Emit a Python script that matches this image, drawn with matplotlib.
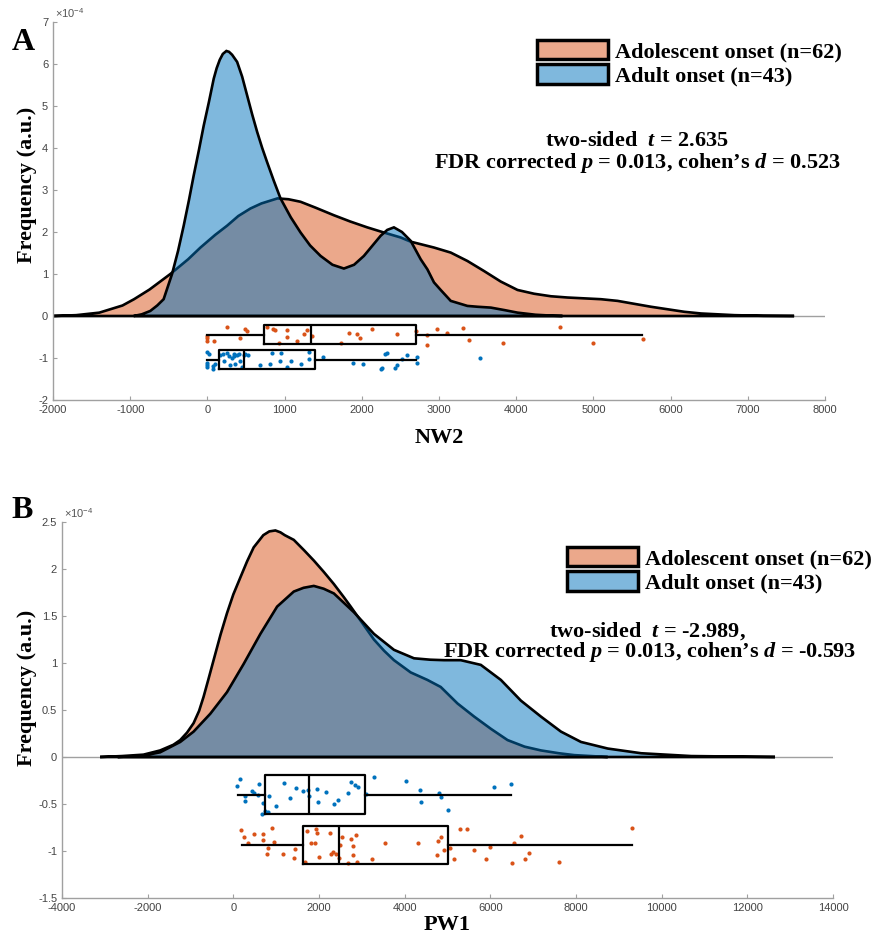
import numpy as np
import matplotlib
matplotlib.use('Agg')
import matplotlib.pyplot as plt
from matplotlib.patches import Patch

plt.rcParams['axes.unicode_minus'] = False
plt.rcParams['mathtext.fontset'] = 'custom'
plt.rcParams['mathtext.rm'] = 'Liberation Serif:bold'
plt.rcParams['mathtext.it'] = 'Liberation Serif:italic:bold'
plt.rcParams['mathtext.bf'] = 'Liberation Serif:bold'
plt.rcParams['mathtext.sf'] = 'Liberation Sans'

# ---- panel A (NW2): density curves, values in 1e-4
nw2_ado_x = [-2000, -1700, -1400, -1100, -950, -750, -480, -250, -90, 100, 255, 400, 558, 700, 908,
             1050, 1206, 1400, 1637, 1850, 2071, 2300, 2503, 2633, 2935, 3152, 3368, 3584, 3800, 4017,
             4232, 4450, 4665, 5097, 5313, 5529, 5746, 5962, 6178, 6394, 6826, 7200, 7600]
nw2_ado_dens = [0.0, 0.02, 0.08, 0.25, 0.40, 0.63, 1.0, 1.35, 1.63, 1.93, 2.15, 2.38, 2.56, 2.68, 2.80,
                2.78, 2.72, 2.58, 2.40, 2.25, 2.11, 1.98, 1.87, 1.77, 1.63, 1.51, 1.31, 1.07, 0.82, 0.62,
                0.53, 0.47, 0.44, 0.40, 0.36, 0.29, 0.22, 0.16, 0.10, 0.06, 0.02, 0.005, 0.0]
nw2_adu_x = [-955, -850, -740, -650, -567, -458, -380, -307, -240, -178, -110, -48, 20, 82, 120, 160, 200,
             246, 280, 320, 385, 450, 515, 580, 645, 710, 774, 860, 947, 1080, 1206, 1330, 1466, 1620,
             1768, 1900, 2027, 2140, 2244, 2330, 2416, 2520, 2633, 2763, 2850, 2935, 3022, 3152, 3368,
             3500, 3671, 3850, 4017, 4250, 4449, 4600]
nw2_adu_dens = [0.0, 0.04, 0.12, 0.25, 0.40, 1.0, 1.55, 2.15, 2.75, 3.34, 3.95, 4.53, 5.10, 5.65, 5.90,
                6.10, 6.24, 6.31, 6.29, 6.22, 6.05, 5.70, 5.25, 4.80, 4.38, 4.00, 3.66, 3.22, 2.80, 2.35,
                1.99, 1.68, 1.43, 1.22, 1.13, 1.22, 1.43, 1.68, 1.91, 2.05, 2.11, 2.00, 1.79, 1.35, 1.11,
                0.80, 0.62, 0.36, 0.24, 0.22, 0.20, 0.14, 0.08, 0.03, 0.01, 0.0]

nw2_ado_pts = [0, 0, 0, 91, 255, 419, 493, 515, 774, 852, 882, 925, 1025, 1033, 1163, 1249, 1293, 1358,
               1725, 1838, 1941, 1976, 2136, 2460, 2698, 2849, 2849, 2979, 3109, 3316, 3394, 3835, 4570,
               4990, 5638]
nw2_ado_jit = [-0.48, -0.53, -0.60, -0.60, -0.26, -0.53, -0.32, -0.36, -0.26, -0.32, -0.33, -0.64, -0.33,
               -0.49, -0.60, -0.42, -0.33, -0.48, -0.64, -0.40, -0.42, -0.52, -0.32, -0.42, -0.36, -0.45,
               -0.68, -0.32, -0.40, -0.28, -0.56, -0.64, -0.25, -0.64, -0.54]
nw2_adu_pts = [0, 17, 0, 0, 0, 74, 104, 74, 169, 203, 212, 255, 277, 290, 320, 342, 350, 363, 385, 406,
               428, 450, 471, 493, 523, 687, 817, 839, 947, 938, 1033, 1077, 1206, 1314, 1314, 1500, 1885,
               2019, 2266, 2253, 2300, 2322, 2430, 2460, 2516, 2590, 2711, 2711, 3528]
nw2_adu_jit = [-0.85, -0.90, -1.11, -1.17, -1.22, -1.19, -1.15, -1.27, -0.93, -0.90, -1.07, -0.89, -0.95,
               -1.17, -0.99, -0.90, -0.95, -1.14, -0.93, -0.90, -1.07, -1.22, -0.93, -0.90, -0.92, -1.17,
               -1.15, -0.89, -0.89, -1.07, -1.22, -1.07, -1.14, -0.85, -1.03, -0.98, -1.11, -1.15, -1.23,
               -1.27, -0.90, -0.87, -1.23, -1.17, -1.03, -0.93, -0.98, -1.11, -1.0]
# whislo, q1, median, q3, whishi
nw2_ado_box = [0, 730, 1336, 2698, 5630]
nw2_adu_box = [0, 155, 471, 1392, 2700]

# ---- panel B (PW1)
pw1_ado_x = [-3111, -2600, -2098, -1708, -1400, -1240, -1080, -928, -800, -695, -580, -461, -300, -148,
             0, 164, 320, 475, 700, 840, 982, 1100, 1200, 1411, 1650, 1879, 2110, 2347, 2580, 2740, 3050,
             3282, 3520, 3750, 4140, 4530, 4842, 5232, 5622, 6012, 6402, 6800, 7181, 7600, 7961, 8741]
pw1_ado_dens = [0.0, 0.01, 0.025, 0.07, 0.13, 0.18, 0.26, 0.36, 0.49, 0.64, 0.83, 1.03, 1.30, 1.53,
                1.73, 1.91, 2.08, 2.23, 2.36, 2.40, 2.41, 2.39, 2.36, 2.31, 2.20, 2.09, 1.97, 1.84, 1.70,
                1.60, 1.40, 1.25, 1.13, 1.03, 0.90, 0.82, 0.745, 0.57, 0.43, 0.30, 0.18, 0.11, 0.07, 0.04,
                0.02, 0.0]
pw1_adu_x = [-2700, -2098, -1708, -1240, -928, -538, -148, 241, 632, 1022, 1411, 1640, 1879, 2110, 2347,
             2815, 3282, 3750, 4218, 4600, 4920, 5310, 5778, 6246, 6713, 7181, 7649, 8117, 8741, 9520,
             10690, 12646]
pw1_adu_dens = [0.0, 0.015, 0.05, 0.16, 0.27, 0.46, 0.69, 0.99, 1.31, 1.60, 1.76, 1.80, 1.82, 1.79, 1.74,
                1.54, 1.31, 1.14, 1.05, 1.035, 1.03, 1.03, 0.98, 0.82, 0.60, 0.43, 0.27, 0.16, 0.09, 0.04,
                0.01, 0.0]

pw1_ado_pts = [189, 247, 339, 481, 690, 690, 815, 790, 907, 941, 1149, 1417, 1442, 1676, 1718, 1818, 1918,
               1927, 1943, 2010, 2252, 2286, 2336, 2403, 2470, 2486, 2528, 2678, 2753, 2787, 2804, 2871,
               2887, 3238, 3547, 4307, 4758, 4784, 4851, 4909, 5059, 5143, 5301, 5460, 5619, 5895, 5995,
               6513, 6563, 6722, 6805, 6898, 7607, 9296]
pw1_ado_jit = [-0.78, -0.85, -0.92, -0.82, -0.82, -0.88, -0.97, -1.03, -0.76, -0.90, -1.03, -1.07, -0.98,
               -1.12, -0.79, -0.91, -0.91, -0.77, -0.81, -1.06, -0.81, -1.03, -1.01, -1.03, -1.07, -0.94,
               -0.85, -1.13, -0.87, -1.04, -0.95, -0.83, -1.12, -1.09, -0.92, -0.91, -1.04, -0.89, -0.85,
               -0.99, -0.97, -1.08, -0.765, -0.765, -0.99, -1.08, -0.96, -1.13, -0.92, -0.84, -1.08, -1.02,
               -1.12, -0.75]
pw1_adu_pts = [147, 80, 272, 272, 440, 481, 606, 565, 690, 665, 749, 798, 832, 999, 1191, 1333, 1459, 1626,
               1751, 1776, 1943, 1985, 2169, 2344, 2444, 2687, 2737, 2837, 2921, 3088, 3288, 4032, 4349,
               4391, 4792, 4851, 5009, 6087, 6480]
pw1_adu_jit = [-0.23, -0.31, -0.41, -0.47, -0.36, -0.385, -0.29, -0.40, -0.49, -0.61, -0.57, -0.59, -0.42,
               -0.52, -0.28, -0.44, -0.33, -0.36, -0.35, -0.41, -0.34, -0.48, -0.37, -0.50, -0.46, -0.38,
               -0.27, -0.30, -0.32, -0.39, -0.21, -0.25, -0.35, -0.48, -0.38, -0.43, -0.56, -0.32, -0.29]
pw1_ado_box = [206, 1626, 2470, 5008, 9296]
pw1_adu_box = [105, 732, 1759, 3071, 6480]

labels = ['Adolescent onset (n=62)', 'Adult onset (n=43)']
orange = (0.85, 0.325, 0.098)
blue = (0.0, 0.447, 0.741)
axis_gray = '#a0a0a0'
serif = 'Liberation Serif'


def cloud(ax, x, d, col):
    xx = np.concatenate([x, [x[-1], x[0]]])
    dd = np.concatenate([d, [0, 0]])
    ax.fill(xx, dd, facecolor=col + (0.5,), edgecolor='black', linewidth=1.9, zorder=2)


def boxes(ax, stats_list, pos, width):
    stats = [dict(whislo=s[0], q1=s[1], med=s[2], q3=s[3], whishi=s[4], fliers=[]) for s in stats_list]
    ax.bxp(stats, positions=pos, widths=width, orientation='horizontal', showcaps=False,
           showfliers=False, manage_ticks=False,
           boxprops=dict(color='black', linewidth=1.6),
           whiskerprops=dict(color='black', linewidth=1.6),
           medianprops=dict(color='black', linewidth=1.6), zorder=4)


def style(ax, xlim, ylim, xticks, yticks, ytl):
    ax.set_xlim(xlim)
    ax.set_ylim(ylim)
    ax.set_xticks(xticks)
    ax.set_yticks(yticks)
    ax.set_yticklabels(ytl)
    ax.axhline(0, color=axis_gray, linewidth=1, zorder=1)
    for s in ['top', 'right']:
        ax.spines[s].set_visible(False)
    for s in ['left', 'bottom']:
        ax.spines[s].set_color(axis_gray)
        ax.spines[s].set_linewidth(1)
    ax.tick_params(direction='in', length=3, color=axis_gray, labelsize=8, labelcolor='#444444')
    for t in ax.get_xticklabels() + ax.get_yticklabels():
        t.set_fontfamily('Liberation Sans')


fig = plt.figure(figsize=(8.74, 9.46), dpi=100)
W, H = 874, 946
ax1 = fig.add_axes([53 / W, 1 - 400 / H, 772 / W, 378 / H])
ax2 = fig.add_axes([62 / W, 1 - 898 / H, 771 / W, 376 / H])

# panel A
cloud(ax1, nw2_ado_x, nw2_ado_dens, orange)
cloud(ax1, nw2_adu_x, nw2_adu_dens, blue)
ax1.scatter(nw2_ado_pts, nw2_ado_jit, s=9, color=orange, linewidths=0, zorder=3)
ax1.scatter(nw2_adu_pts, nw2_adu_jit, s=9, color=blue, linewidths=0, zorder=3)
boxes(ax1, [nw2_ado_box, nw2_adu_box], [-0.45, -1.045], 0.45)
style(ax1, (-2000, 8000), (-2, 7), np.arange(-2000, 8001, 1000), np.arange(-2, 8),
      [str(v) for v in range(-2, 8)])

# panel B
cloud(ax2, pw1_ado_x, pw1_ado_dens, orange)
cloud(ax2, pw1_adu_x, pw1_adu_dens, blue)
ax2.scatter(pw1_ado_pts, pw1_ado_jit, s=9, color=orange, linewidths=0, zorder=3)
ax2.scatter(pw1_adu_pts, pw1_adu_jit, s=9, color=blue, linewidths=0, zorder=3)
boxes(ax2, [pw1_adu_box, pw1_ado_box], [-0.40, -0.935], 0.41)
style(ax2, (-4000, 14000), (-1.5, 2.5), np.arange(-4000, 14001, 2000), np.arange(-1.5, 2.51, 0.5),
      ['-1.5', '-1', '-0.5', '0', '0.5', '1', '1.5', '2', '2.5'])

for ax, xl, ylx, yly, xly in [(ax1, 'NW2', -0.034, 0.57, -0.074), (ax2, 'PW1', -0.045, 0.56, -0.046)]:
    ax.set_xlabel(xl, fontsize=16, fontweight='bold', fontfamily=serif)
    ax.xaxis.set_label_coords(0.5, xly)
    ax.set_ylabel('Frequency (a.u.)', fontsize=16, fontweight='bold', fontfamily=serif, va='center')
    ax.yaxis.set_label_coords(ylx, yly)
    ax.text(0.003, 1.005, r'$\mathsf{\times10^{-4}}$', transform=ax.transAxes, fontsize=8,
            color='#555555', va='bottom', ha='left')

handles = [Patch(facecolor=orange + (0.5,), edgecolor='black', linewidth=2.5),
           Patch(facecolor=blue + (0.5,), edgecolor='black', linewidth=2.5)]
for ax, lx, ly in [(ax1, 537, 40), (ax2, 567, 547)]:
    ax.legend(handles, labels, loc='upper left', bbox_to_anchor=(lx / W, 1 - ly / H),
              bbox_transform=fig.transFigure, frameon=False, borderpad=0, borderaxespad=0,
              handlelength=3.2, handleheight=0.95, handletextpad=0.3, labelspacing=0.1,
              prop=dict(family=serif, weight='bold', size=16))

fig.text(637 / W, 1 - 141 / H, 'two-sided  $t$ = 2.635', ha='center', va='center',
         fontsize=16, fontweight='bold', fontfamily=serif)
fig.text(637 / W, 1 - 163 / H, 'FDR corrected $p$ = 0.013, cohen\u2019s $d$ = 0.523', ha='center',
         va='center', fontsize=16, fontweight='bold', fontfamily=serif)
fig.text(647 / W, 1 - 631 / H, 'two-sided  $t$ = -2.989,', ha='center', va='center',
         fontsize=16, fontweight='bold', fontfamily=serif)
fig.text(650 / W, 1 - 652 / H, 'FDR corrected $p$ = 0.013, cohen\u2019s $d$ = -0.593', ha='center',
         va='center', fontsize=16, fontweight='bold', fontfamily=serif)

fig.text(12 / W, 1 - 50 / H, 'A', fontsize=23, fontweight='bold', fontfamily=serif, va='baseline')
fig.text(11 / W, 1 - 518 / H, 'B', fontsize=23, fontweight='bold', fontfamily=serif, va='baseline')

fig.savefig('out.png', dpi=100)
